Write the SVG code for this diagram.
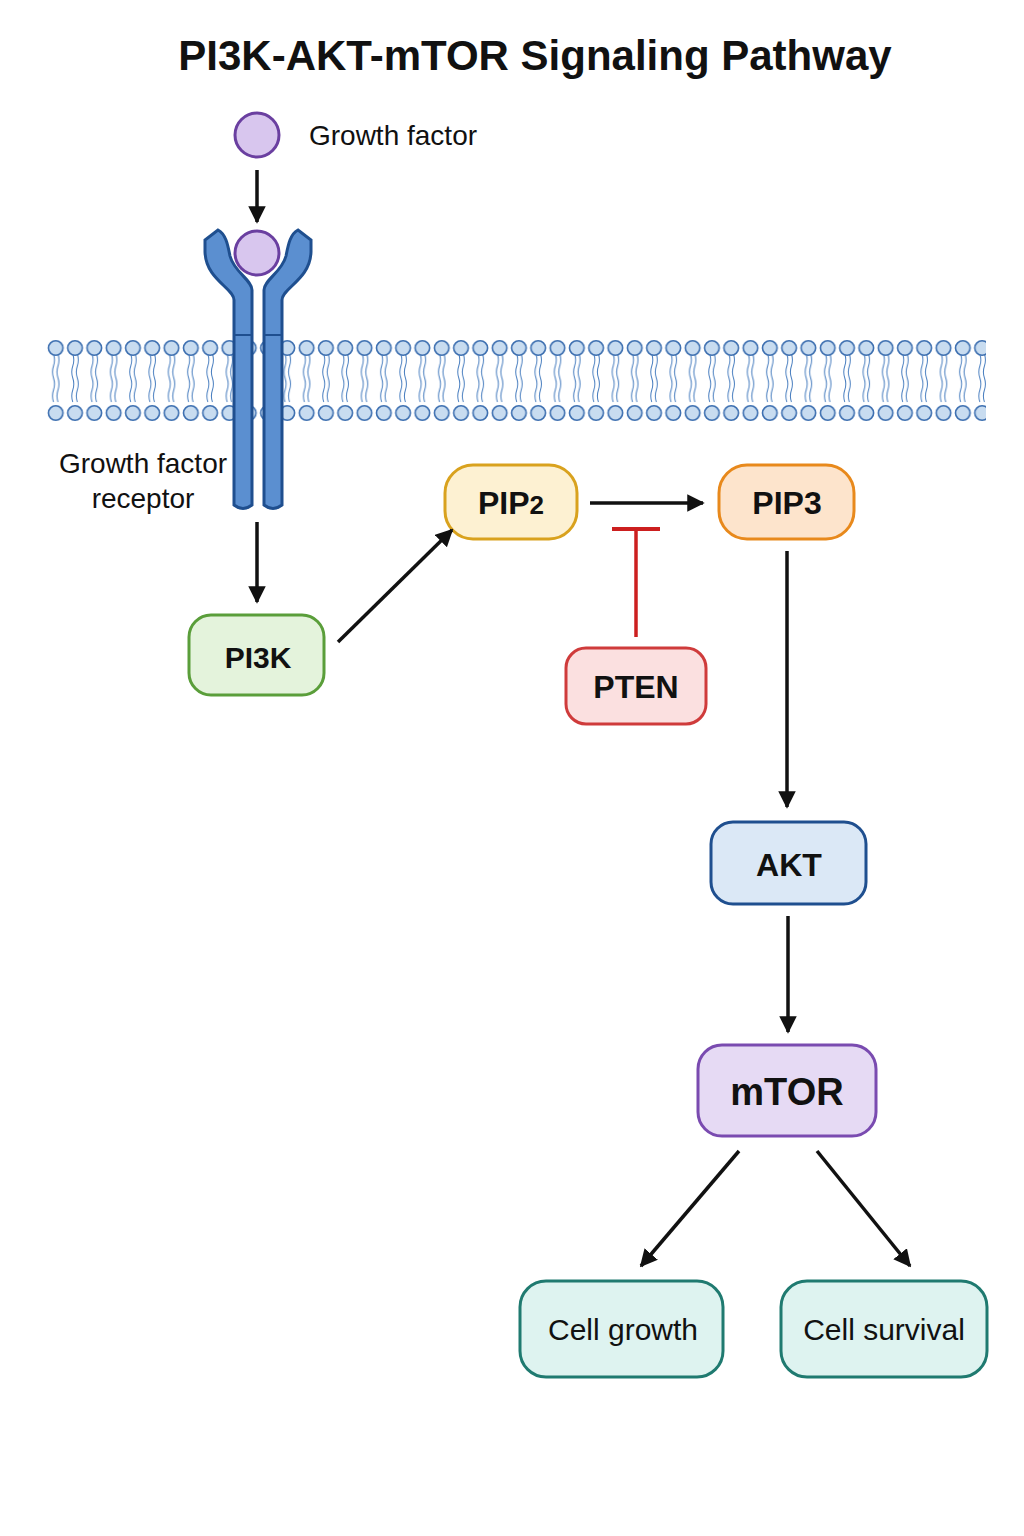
<svg xmlns="http://www.w3.org/2000/svg" width="1024" height="1536" viewBox="0 0 1024 1536">
<style>
text{font-family:"Liberation Sans",Arial,sans-serif;fill:#111;font-weight:bold;text-anchor:middle}
.c{stroke:#111;stroke-width:3.5;fill:none;marker-end:url(#ah)}
.rec{fill:#5b8fd0;stroke:#1f4f8f;stroke-width:3}
.lbl{font-size:30px;font-weight:bold}
</style>
<defs>
<marker id="ah" viewBox="0 0 10 10" refX="9" refY="5" markerWidth="5" markerHeight="5" orient="auto"><path d="M0,0L10,5L0,10Z" fill="#111"/></marker>
<pattern id="lip" x="46" y="330" width="19.3" height="100" patternUnits="userSpaceOnUse">
<path d="M7.5,24 q2,6 0,12 q-2,6 0,12 q2,6 0,12 q-2,6 0,12 M12,24 q2,6 0,12 q-2,6 0,12 q2,6 0,12 q-2,6 0,12" stroke="#4a7fc0" stroke-width="1" fill="none"/>
<circle cx="9.7" cy="18" r="7.3" fill="#c8dcf0" stroke="#3d6fb0" stroke-width="1.6"/>
<circle cx="9.7" cy="83" r="7.3" fill="#c8dcf0" stroke="#3d6fb0" stroke-width="1.6"/>
</pattern>
</defs>
<rect width="1024" height="1536" fill="#fff"/>
<text x="535" y="70" font-size="42">PI3K-AKT-mTOR Signaling Pathway</text>
<g id="membrane"><rect x="46" y="330" width="940" height="100" fill="url(#lip)"/></g>
<g id="growth-factor">
<circle cx="257" cy="135" r="22" fill="#d8c6ee" stroke="#6a3fa0" stroke-width="3"/>
<text x="393" y="145" font-size="28" font-weight="normal" style="font-weight:500">Growth factor</text>
</g>
<g id="receptor">
<path class="rec" d="M234,505 L234,300 C234,288 206,280 205,252 L205,240 L218,230 C226,234 228,246 230,256 C234,272 252,280 252,290 L252,505 Q243,512 234,505Z"/>
<path class="rec" d="M282,505 L282,300 C282,288 310,280 311,252 L311,240 L298,230 C290,234 288,246 286,256 C282,272 264,280 264,290 L264,505 Q273,512 282,505Z"/>
<line x1="234" y1="335" x2="252" y2="335" stroke="#1f4f8f" stroke-width="2"/>
<line x1="264" y1="335" x2="282" y2="335" stroke="#1f4f8f" stroke-width="2"/>
<circle cx="257" cy="253" r="22" fill="#d8c6ee" stroke="#6a3fa0" stroke-width="3"/>
<text x="143" y="473" font-size="28" style="font-weight:500">Growth factor</text>
<text x="143" y="508" font-size="28" style="font-weight:500">receptor</text>
</g>
<g id="PI3K"><rect x="189" y="615" width="135" height="80" rx="22" fill="#e4f3dc" stroke="#5a9e3a" stroke-width="3"/><text x="258" y="668" class="lbl" font-size="32">PI3K</text></g>
<g id="PIP2"><rect x="445" y="465" width="132" height="74" rx="28" fill="#fdf1d2" stroke="#d9a21e" stroke-width="3"/><text x="511" y="514" font-size="32">PIP<tspan font-size="26">2</tspan></text></g>
<g id="PIP3"><rect x="719" y="465" width="135" height="74" rx="28" fill="#fde4cc" stroke="#e8891c" stroke-width="3"/><text x="787" y="514" font-size="32">PIP3</text></g>
<g id="PTEN"><rect x="566" y="648" width="140" height="76" rx="20" fill="#fbe0e0" stroke="#cf3b3b" stroke-width="3"/><text x="636" y="698" font-size="32">PTEN</text></g>
<g id="AKT"><rect x="711" y="822" width="155" height="82" rx="22" fill="#dbe8f6" stroke="#1f4f8f" stroke-width="3"/><text x="789" y="876" font-size="32">AKT</text></g>
<g id="mTOR"><rect x="698" y="1045" width="178" height="91" rx="24" fill="#e6daf4" stroke="#7a4bb0" stroke-width="3"/><text x="787" y="1105" font-size="38">mTOR</text></g>
<g id="cell-growth"><rect x="520" y="1281" width="203" height="96" rx="26" fill="#def3f0" stroke="#1f7a70" stroke-width="3"/><text x="623" y="1340" font-size="30" style="font-weight:500">Cell growth</text></g>
<g id="cell-survival"><rect x="781" y="1281" width="206" height="96" rx="26" fill="#def3f0" stroke="#1f7a70" stroke-width="3"/><text x="884" y="1340" font-size="30" style="font-weight:500">Cell survival</text></g>
<g id="connectors">
<line class="c" x1="257" y1="170" x2="257" y2="222"/>
<line class="c" x1="257" y1="522" x2="257" y2="602"/>
<line class="c" x1="338" y1="642" x2="452" y2="530"/>
<line class="c" x1="590" y1="503" x2="703" y2="503"/>
<line x1="636" y1="637" x2="636" y2="529" stroke="#cc1f1f" stroke-width="3.5"/>
<line x1="612" y1="529" x2="660" y2="529" stroke="#cc1f1f" stroke-width="4"/>
<line class="c" x1="787" y1="551" x2="787" y2="807"/>
<line class="c" x1="788" y1="916" x2="788" y2="1032"/>
<line class="c" x1="739" y1="1151" x2="641" y2="1266"/>
<line class="c" x1="817" y1="1151" x2="910" y2="1266"/>
</g>
</svg>
